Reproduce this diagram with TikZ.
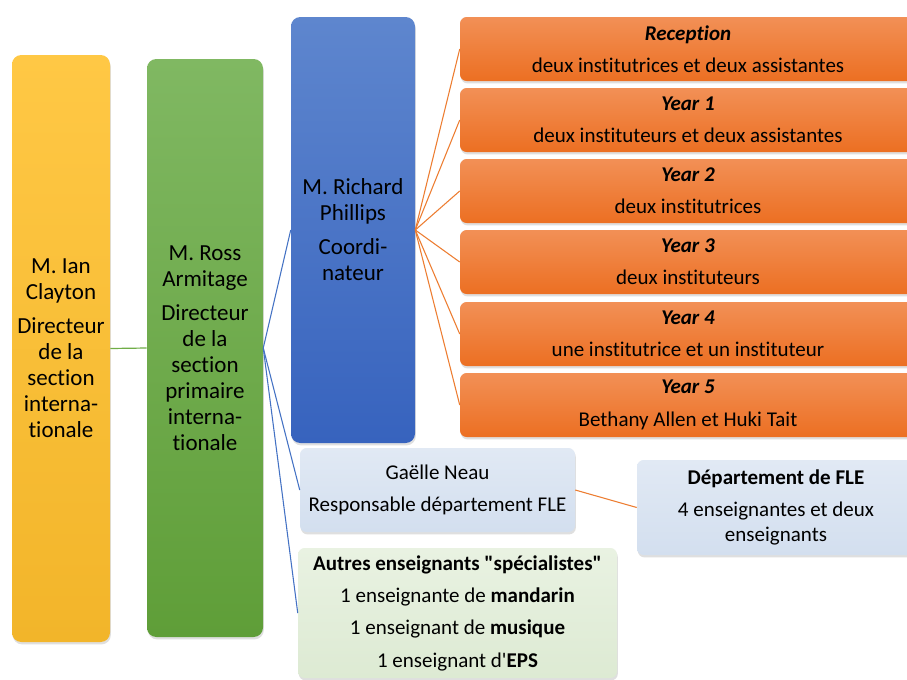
\documentclass[tikz,border=0pt]{standalone}
\usepackage{fontspec}
\defaultfontfeatures[\rmfamily]{}
\setmainfont{Carlito}[Ligatures=NoCommon]
\usetikzlibrary{shadows}
\definecolor{yelT}{HTML}{FFC845}
\definecolor{yelB}{HTML}{F2B52A}
\definecolor{grnT}{HTML}{80B862}
\definecolor{grnB}{HTML}{5F9E38}
\definecolor{bluT}{HTML}{5E86CE}
\definecolor{bluB}{HTML}{3763BE}
\definecolor{orT}{HTML}{F29056}
\definecolor{orB}{HTML}{EC6F22}
\definecolor{lbT}{HTML}{E1E9F4}
\definecolor{lbB}{HTML}{D3DFEF}
\definecolor{lgT}{HTML}{E9F2E2}
\definecolor{lgB}{HTML}{DDEAD3}
\definecolor{lnBlue}{HTML}{4472C4}
\definecolor{lnOr}{HTML}{ED7D31}
\definecolor{lnGrn}{HTML}{70AD47}
\begin{document}
\begin{tikzpicture}[x=0.75pt,y=-0.75pt,
  sz/.style 2 args={minimum width=#1*0.75pt, minimum height=#2*0.75pt},
  base/.style={rectangle, rounded corners=7pt, inner sep=0pt, align=center, text=black,
    drop shadow={opacity=0.25, shadow xshift=0.6pt, shadow yshift=-1.8pt}},
  big/.style={base, font=\fontsize{17.25pt}{19.5pt}\selectfont},
  small/.style={base, rounded corners=5pt, font=\fontsize{15.75pt}{18.75pt}\selectfont},
  yelbox/.style={big, top color=yelT, bottom color=yelB},
  grnbox/.style={big, top color=grnT, bottom color=grnB},
  blubox/.style={big, top color=bluT, bottom color=bluB},
  orbox/.style={small, top color=orT, bottom color=orB, sz={456}{64}},
  lbbox/.style={small, top color=lbT, bottom color=lbB},
  lgbox/.style={small, top color=lgT, bottom color=lgB},
  bline/.style={draw=lnBlue, line width=0.8pt},
  oline/.style={draw=lnOr, line width=0.8pt},
  gline/.style={draw=lnGrn, line width=0.9pt}
]
\useasboundingbox (0,0) rectangle (907,679);
\fill[white] (0,0) rectangle (907,679);
\clip (0,0) rectangle (907,679);

\node[yelbox, sz={98}{587}] (ian) at (61,348.5)
  {M. Ian\\Clayton\\[6pt]Directeur\\de la\\section\\interna-\\tionale};
\node[grnbox, sz={116}{578}] (ross) at (205,348)
  {M. Ross\\Armitage\\[6pt]Directeur\\de la\\section\\primaire\\interna-\\tionale};
\node[blubox, sz={124}{426}] (rich) at (353,230)
  {M. Richard\\Phillips\\[6pt]Coordi-\\nateur};

\node[orbox] (rec) at (688,49) {\textbf{\textit{Reception}}\\[5.5pt]deux institutrices et deux assistantes};
\node[orbox] (y1) at (688,120) {\textbf{\textit{Year 1}}\\[5.5pt]deux instituteurs et deux assistantes};
\node[orbox] (y2) at (688,191) {\textbf{\textit{Year 2}}\\[5.5pt]deux institutrices};
\node[orbox] (y3) at (688,262) {\textbf{\textit{Year 3}}\\[5.5pt]deux instituteurs};
\node[orbox] (y4) at (688,334) {\textbf{\textit{Year 4}}\\[5.5pt]une institutrice et un instituteur};
\node[orbox] (y5) at (688,405) {\textbf{\textit{Year 5}}\\[5.5pt]Bethany Allen et Huki Tait};

\node[lbbox, sz={275}{84}] (gae) at (437.5,490)
  {Gaëlle Neau\\[5.5pt]Responsable département FLE};
\node[lbbox, sz={278}{95}] (fle) at (776,507.5)
  {\textbf{Département de FLE}\\[5.5pt]4 enseignantes et deux\\enseignants};
\node[lgbox, sz={319}{130}] (aut) at (457.5,613)
  {\textbf{Autres enseignants "spécialistes"}\\[5.5pt]1 enseignante de \textbf{mandarin}\\[5.5pt]1 enseignant de \textbf{musique}\\[5.5pt]1 enseignant d'\textbf{EPS}};

\draw[gline] (ian.east) -- (ross.west);
\draw[bline] (ross.east) -- (rich.west);
\draw[bline] (ross.east) -- (gae.west);
\draw[bline] (ross.east) -- (aut.west);
\foreach \t in {rec,y1,y2,y3,y4,y5}
  \draw[oline] (rich.east) -- (\t.west);
\draw[oline] (gae.east) -- (fle.west);
\end{tikzpicture}
\end{document}
